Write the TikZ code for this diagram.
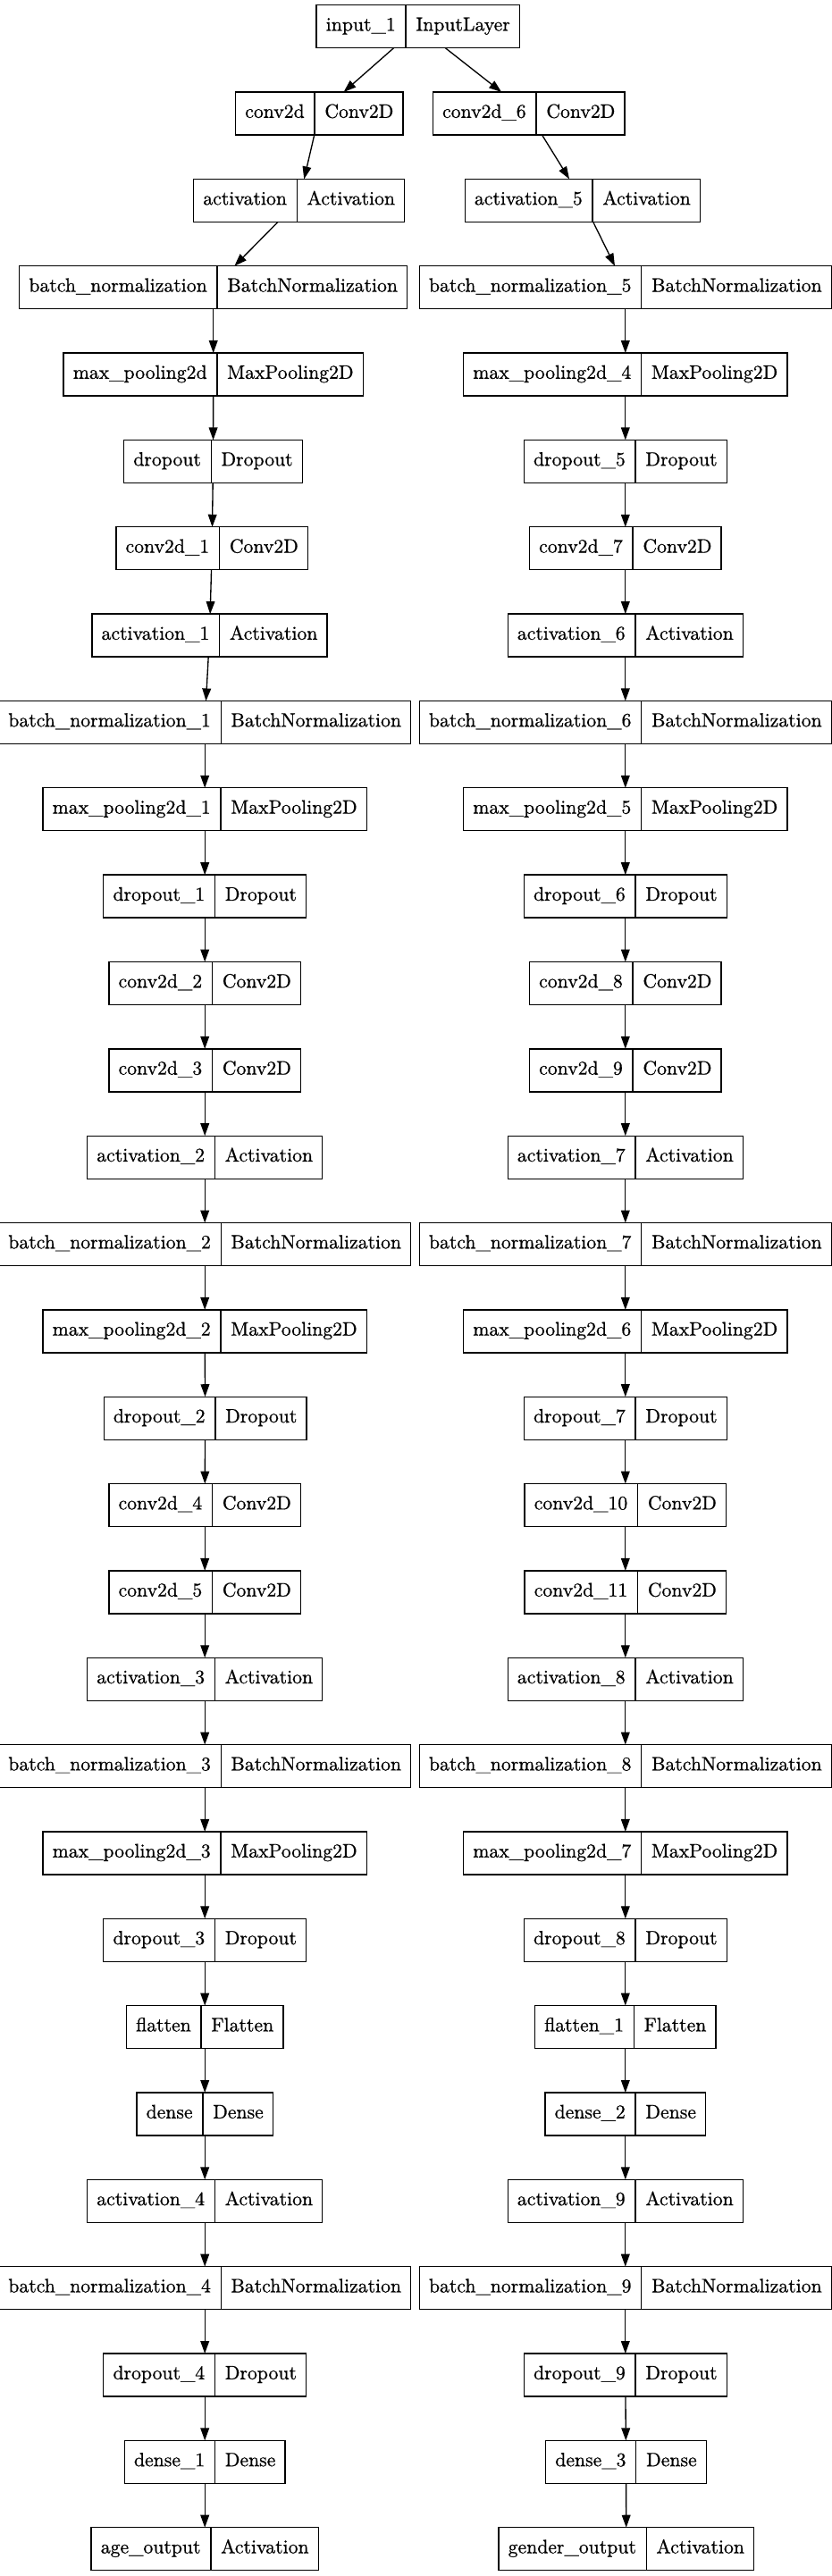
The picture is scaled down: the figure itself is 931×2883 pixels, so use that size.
\documentclass[tikz,border=0pt]{standalone}
\usepackage{fontspec}
\newfontfamily\lmten{lmroman10-regular.otf}[FakeBold=0.7]
\usetikzlibrary{shapes.multipart,arrows.meta}
\newcommand\lstrut{\rule[-14.4pt]{0pt}{36pt}}
\tikzset{
  layerbox/.style={draw=black, line width=1pt, rectangle split, rectangle split horizontal,
    rectangle split parts=2, inner xsep=8pt, inner ysep=0pt, outer sep=0pt,
    font=\lmten\fontsize{16.3pt}{19pt}\selectfont},
  edge/.style={line width=1pt, -{Triangle[length=10.5pt,width=7.3pt]}}
}
\newcommand\layer[5]{\node[layerbox] (#1) at (#2,{29.7+97.345*(#3-1)}) {\lstrut #4\nodepart{two}\lstrut #5};}
\begin{document}
\begin{tikzpicture}[x=0.75pt,y=-0.75pt]
\useasboundingbox (0,0) rectangle (931,2883);
% left branch
\layer{n1}{467.8}{1}{input\_1}{InputLayer}
\layer{n2}{357.3}{2}{conv2d}{Conv2D}
\layer{n3}{334.7}{3}{activation}{Activation}
\layer{n4}{238.7}{4}{batch\_normalization}{BatchNormalization}
\layer{n5}{238.7}{5}{max\_pooling2d}{MaxPooling2D}
\layer{n6}{238.5}{6}{dropout}{Dropout}
\layer{n7}{237.2}{7}{conv2d\_1}{Conv2D}
\layer{n8}{234.5}{8}{activation\_1}{Activation}
\layer{n9}{229.2}{9}{batch\_normalization\_1}{BatchNormalization}
\layer{n10}{229.2}{10}{max\_pooling2d\_1}{MaxPooling2D}
\layer{n11}{229.2}{11}{dropout\_1}{Dropout}
\layer{n12}{229.2}{12}{conv2d\_2}{Conv2D}
\layer{n13}{229.2}{13}{conv2d\_3}{Conv2D}
\layer{n14}{229.2}{14}{activation\_2}{Activation}
\layer{n15}{229.2}{15}{batch\_normalization\_2}{BatchNormalization}
\layer{n16}{229.2}{16}{max\_pooling2d\_2}{MaxPooling2D}
\layer{n17}{229.6}{17}{dropout\_2}{Dropout}
\layer{n18}{229.2}{18}{conv2d\_4}{Conv2D}
\layer{n19}{229.2}{19}{conv2d\_5}{Conv2D}
\layer{n20}{229.2}{20}{activation\_3}{Activation}
\layer{n21}{229.2}{21}{batch\_normalization\_3}{BatchNormalization}
\layer{n22}{229.2}{22}{max\_pooling2d\_3}{MaxPooling2D}
\layer{n23}{229.2}{23}{dropout\_3}{Dropout}
\layer{n24}{229.2}{24}{flatten}{Flatten}
\layer{n25}{229.2}{25}{dense}{Dense}
\layer{n26}{229.2}{26}{activation\_4}{Activation}
\layer{n27}{229.2}{27}{batch\_normalization\_4}{BatchNormalization}
\layer{n28}{229.2}{28}{dropout\_4}{Dropout}
\layer{n29}{229.2}{29}{dense\_1}{Dense}
\layer{n30}{229.2}{30}{age\_output}{Activation}
% right branch
\layer{r2}{591.7}{2}{conv2d\_6}{Conv2D}
\layer{r3}{651.9}{3}{activation\_5}{Activation}
\layer{r4}{699.8}{4}{batch\_normalization\_5}{BatchNormalization}
\layer{r5}{699.8}{5}{max\_pooling2d\_4}{MaxPooling2D}
\layer{r6}{699.8}{6}{dropout\_5}{Dropout}
\layer{r7}{699.8}{7}{conv2d\_7}{Conv2D}
\layer{r8}{699.8}{8}{activation\_6}{Activation}
\layer{r9}{699.8}{9}{batch\_normalization\_6}{BatchNormalization}
\layer{r10}{699.8}{10}{max\_pooling2d\_5}{MaxPooling2D}
\layer{r11}{699.8}{11}{dropout\_6}{Dropout}
\layer{r12}{699.8}{12}{conv2d\_8}{Conv2D}
\layer{r13}{699.8}{13}{conv2d\_9}{Conv2D}
\layer{r14}{699.8}{14}{activation\_7}{Activation}
\layer{r15}{699.8}{15}{batch\_normalization\_7}{BatchNormalization}
\layer{r16}{699.8}{16}{max\_pooling2d\_6}{MaxPooling2D}
\layer{r17}{699.8}{17}{dropout\_7}{Dropout}
\layer{r18}{699.8}{18}{conv2d\_10}{Conv2D}
\layer{r19}{699.8}{19}{conv2d\_11}{Conv2D}
\layer{r20}{699.8}{20}{activation\_8}{Activation}
\layer{r21}{699.8}{21}{batch\_normalization\_8}{BatchNormalization}
\layer{r22}{699.8}{22}{max\_pooling2d\_7}{MaxPooling2D}
\layer{r23}{699.8}{23}{dropout\_8}{Dropout}
\layer{r24}{699.8}{24}{flatten\_1}{Flatten}
\layer{r25}{699.8}{25}{dense\_2}{Dense}
\layer{r26}{699.8}{26}{activation\_9}{Activation}
\layer{r27}{699.8}{27}{batch\_normalization\_9}{BatchNormalization}
\layer{r28}{699.8}{28}{dropout\_9}{Dropout}
\layer{r29}{700.5}{29}{dense\_3}{Dense}
\layer{r30}{700.8}{30}{gender\_output}{Activation}
% edges
\foreach \a/\b in {1/2,2/3,3/4,4/5,5/6,6/7,7/8,8/9,9/10,10/11,11/12,12/13,13/14,14/15,15/16,16/17,17/18,18/19,19/20,20/21,21/22,22/23,23/24,24/25,25/26,26/27,27/28,28/29,29/30}
  \draw[edge] (n\a) -- (n\b);
\draw[edge] (n1) -- (r2);
\foreach \a/\b in {2/3,3/4,4/5,5/6,6/7,7/8,8/9,9/10,10/11,11/12,12/13,13/14,14/15,15/16,16/17,17/18,18/19,19/20,20/21,21/22,22/23,23/24,24/25,25/26,26/27,27/28,28/29,29/30}
  \draw[edge] (r\a) -- (r\b);
\end{tikzpicture}
\end{document}
